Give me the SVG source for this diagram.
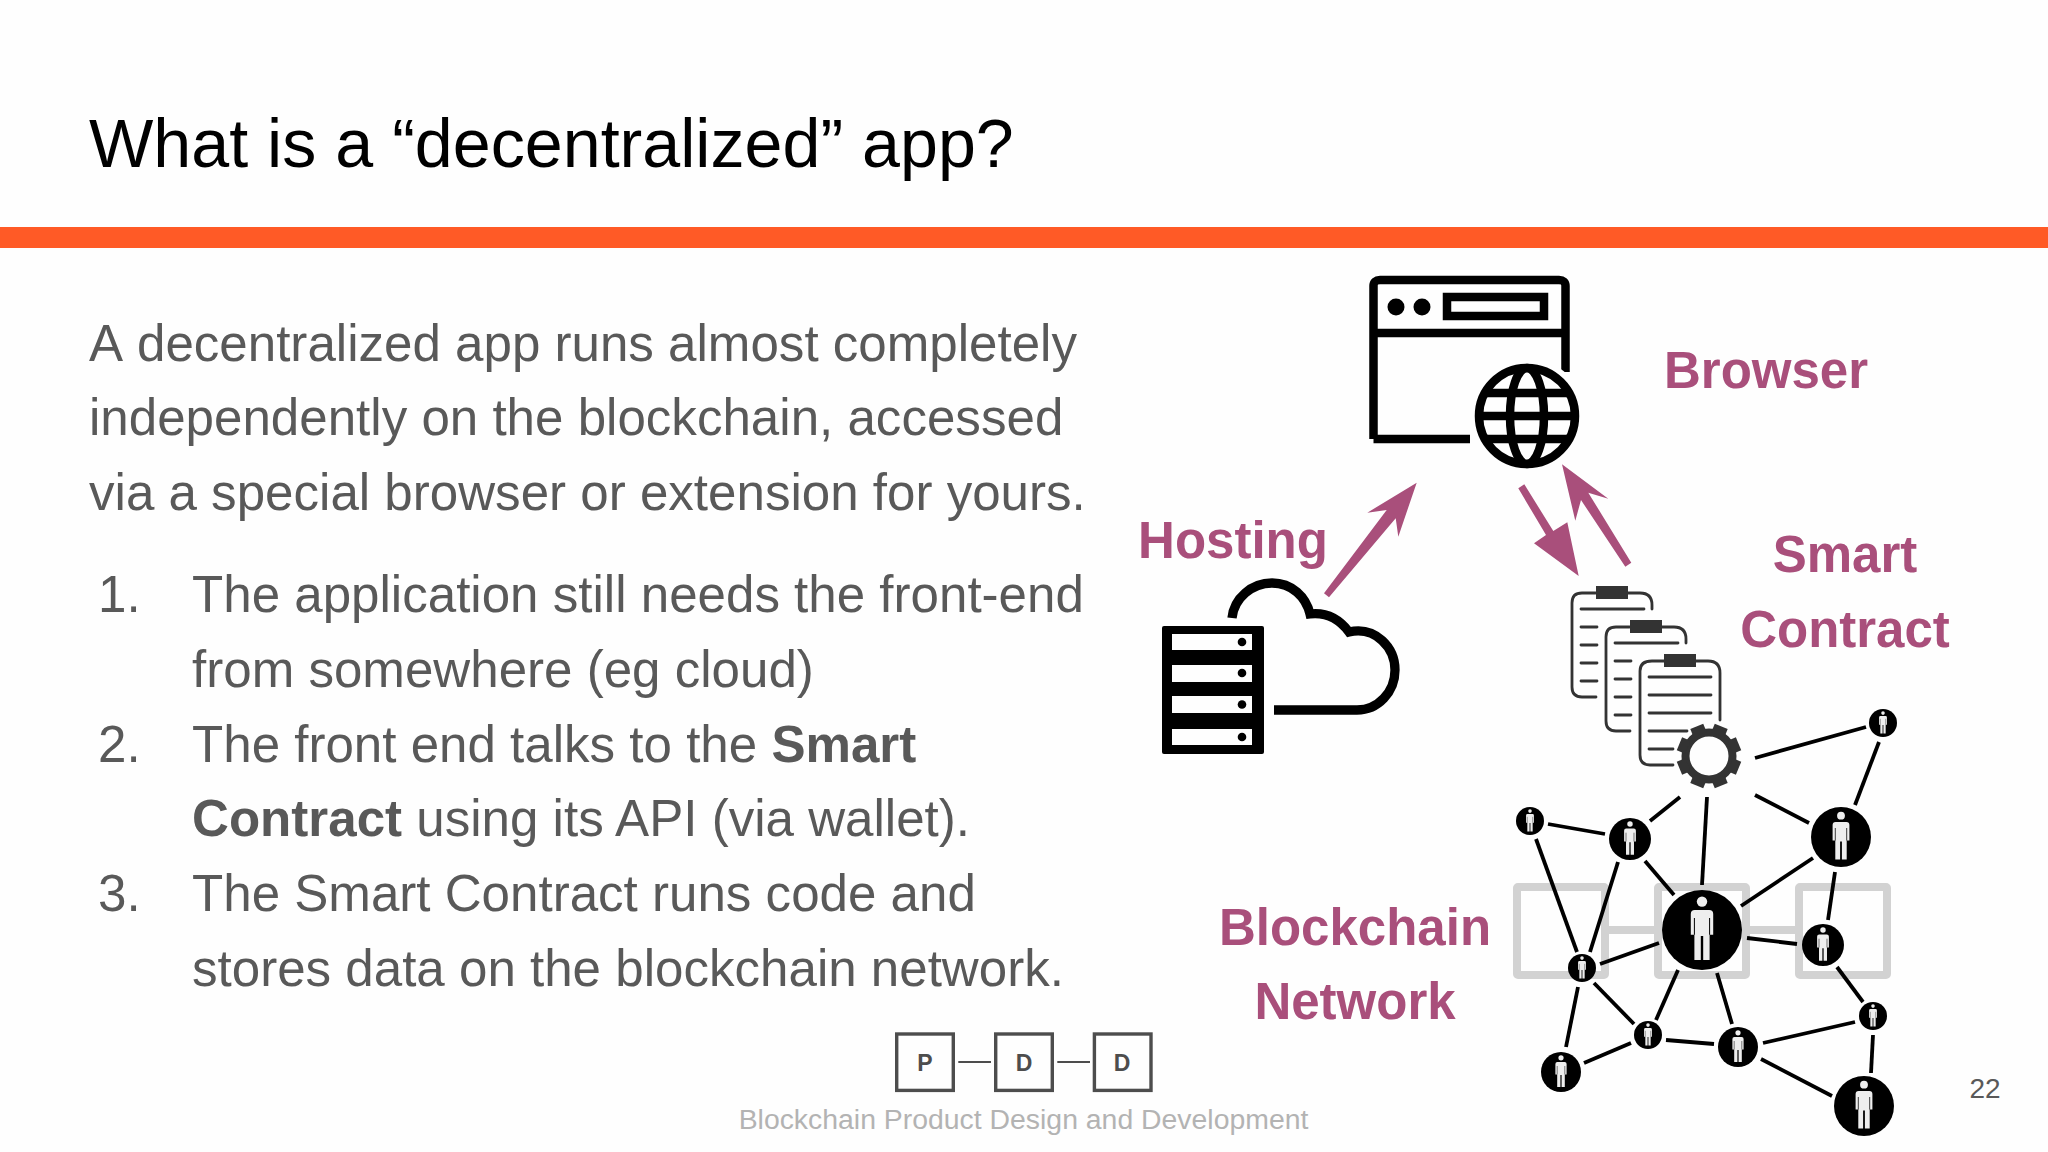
<svg xmlns="http://www.w3.org/2000/svg" width="2048" height="1152" viewBox="0 0 2048 1152">
<style>
text{font-family:"Liberation Sans",Arial,sans-serif}
.body{font-size:51.1px;fill:#595959}
.bold{font-weight:700}
.lab{font-size:51px;font-weight:700;fill:#a94f7b;text-anchor:middle}
.ln{stroke:#000;stroke-width:3.8;fill:none}
.k{stroke:#000;stroke-width:8.5;fill:none}
.doc{stroke:#333;stroke-width:2.8;fill:none;stroke-linecap:round}
.g{stroke:#d2d2d2;stroke-width:8;fill:none}
.ar{fill:#a94f7b}
.logo{stroke:#4d4d4d;fill:none}
.lt{font-size:23px;font-weight:700;fill:#4d4d4d;text-anchor:middle}
</style>
<defs>
<g id="person">
<circle r="1" fill="#000"/>
<circle cy="-.71" r=".13" fill="#eee"/>
<path fill="#eee" d="M-.28-.4Q-.28-.5-.18-.5H.18Q.28-.5.28-.4V.12H.19V.75H.03V.15H-.03V.75H-.19V.12H-.28Z"/>
<path stroke="#000" stroke-width=".025" fill="none" d="M-.19-.3V.12M.19-.3V.12"/>
</g>
<g id="doc">
<path class="doc" d="M25.5 593H12Q2 593 2 603V687Q2 697 12 697H26M58 593H70Q82 593 82 605V609"/>
<rect x="26" y="586" width="32" height="13" fill="#333"/>
</g>
</defs>
<rect width="2048" height="1152" fill="#fefefe"/>
<rect y="227" width="2048" height="21" fill="#ff5a26"/>
<text id="title" x="89" y="167" font-size="68.2" fill="#000">What is a “decentralized” app?</text>
<g id="body-text" class="body">
<text x="89" y="361">A<tspan dx="2.5"> decentralized app runs almost completely</tspan></text>
<text x="89" y="435">independently on the blockchain, accessed</text>
<text x="89" y="510">via a special browser or extension for yours.</text>
<text x="98" y="612">1.</text>
<text x="192" y="612">The application still needs the front-end</text>
<text x="192" y="687">from somewhere (eg cloud)</text>
<text x="98" y="762">2.</text>
<text x="192" y="762">The front end talks to the <tspan class="bold">Smart</tspan></text>
<text x="192" y="836"><tspan class="bold">Contract</tspan> using its API (via wallet).</text>
<text x="98" y="911">3.</text>
<text x="192" y="911">The Smart Contract runs code and</text>
<text x="192" y="986">stores data on the blockchain network.</text>
</g>
<g id="blocks" class="g">
<rect x="1517" y="887" width="88" height="88" rx="1"/>
<rect x="1658" y="887" width="88" height="88" rx="1"/>
<rect x="1799" y="887" width="88" height="88" rx="1"/>
<path d="M1605 930H1658M1746 930H1799"/>
</g>
<g id="connectors" class="ln">
<path d="M1755 758L1866 727"/>
<path d="M1879 742L1855 805"/>
<path d="M1755 795L1809 823"/>
<path d="M1680 797L1650 821"/>
<path d="M1707 797L1702 885"/>
<path d="M1548 824L1605 834"/>
<path d="M1536 839L1577 952"/>
<path d="M1618 862L1590 952"/>
<path d="M1645 861L1674 895"/>
<path d="M1813 858L1741 906"/>
<path d="M1835 872L1828 920"/>
<path d="M1659 943L1600 964"/>
<path d="M1747 938L1797 944"/>
<path d="M1678 970L1656 1020"/>
<path d="M1717 973L1732 1024"/>
<path d="M1594 983L1634 1024"/>
<path d="M1578 987L1566 1047"/>
<path d="M1631 1043L1584 1063"/>
<path d="M1666 1040L1714 1044"/>
<path d="M1763 1043L1855 1022"/>
<path d="M1761 1059L1832 1096"/>
<path d="M1837 967L1863 1002"/>
<path d="M1873 1035L1871 1073"/>
</g>
<g id="arrows" class="ar">
<path d="M1324 593.300L1386.700 510L1367.300 512.700L1416.700 482.700L1398.300 536.700L1395.700 518.300L1329 597.300Z"/>
<path d="M1518.300 488.300L1524.300 484.300L1553.300 531L1567.300 522.300L1578.700 576L1534 543.300L1546 535Z"/>
<path d="M1631.300 562.700L1625.300 566.700L1581 500L1575.300 520.700L1562 464.300L1608.300 498.700L1588.300 492.700Z"/>
</g>
<g id="browser">
<path class="k" d="M1373.500 439V286Q1373.500 280 1380 280H1559Q1565.500 280 1565.500 286V372M1373.500 333H1565.500M1373.500 439H1470"/>
<circle cx="1396" cy="307" r="8.5"/>
<circle cx="1422" cy="307" r="8.5"/>
<rect class="k" x="1447" y="297" width="97" height="19"/>
<circle cx="1527" cy="416" r="58" fill="#fefefe"/>
<g class="k">
<circle cx="1527" cy="416" r="48"/>
<ellipse cx="1527" cy="416" rx="17" ry="48"/>
<path d="M1479 416H1575M1486 393H1568M1486 439H1568"/>
</g>
</g>
<g id="hosting">
<path fill="none" stroke="#000" stroke-width="9.3" d="M1232 618C1234 598 1252 583 1272 583C1292 583 1306 597 1310 614C1328 612 1340 620 1349 632C1376 626 1395 648 1395 670C1395 692 1378 710 1357 710H1274"/>
<rect x="1162" y="626" width="102" height="128" rx="2" fill="#000"/>
<g fill="#fefefe">
<rect x="1172" y="634" width="80" height="16"/>
<rect x="1172" y="665" width="80" height="17"/>
<rect x="1172" y="696" width="80" height="17"/>
<rect x="1172" y="729" width="80" height="16"/>
</g>
<g fill="#000">
<circle cx="1242" cy="642" r="4.3"/><circle cx="1242" cy="673" r="4.3"/><circle cx="1242" cy="704.5" r="4.3"/><circle cx="1242" cy="737" r="4.3"/>
</g>
</g>
<g id="contract">
<use href="#doc" x="1570"/>
<path class="doc" d="M1581 609H1644M1581 627H1597M1581 645H1597M1581 663H1597M1581 681H1597"/>
<use href="#doc" x="1604" y="34"/>
<path class="doc" d="M1615 643H1678M1615 661H1631M1615 679H1631M1615 697H1631M1615 715H1631"/>
<path class="doc" d="M1664 661H1652Q1640 661 1640 671V755Q1640 765 1650 765H1673M1696 661H1708Q1720 661 1720 673V720"/>
<rect x="1664" y="654" width="32" height="13" fill="#333"/>
<path class="doc" d="M1649 677H1711M1649 695H1711M1649 713H1711M1649 731H1687M1649 749H1673"/>
<g id="gear" transform="translate(1709 756)" fill="#333">
<circle r="23.5" fill="#fefefe" stroke="#333" stroke-width="8"/>
<rect x="-7" y="-32" width="14" height="9" transform="rotate(22.5)"/>
<rect x="-7" y="-32" width="14" height="9" transform="rotate(67.5)"/>
<rect x="-7" y="-32" width="14" height="9" transform="rotate(112.5)"/>
<rect x="-7" y="-32" width="14" height="9" transform="rotate(157.5)"/>
<rect x="-7" y="-32" width="14" height="9" transform="rotate(202.5)"/>
<rect x="-7" y="-32" width="14" height="9" transform="rotate(247.5)"/>
<rect x="-7" y="-32" width="14" height="9" transform="rotate(292.5)"/>
<rect x="-7" y="-32" width="14" height="9" transform="rotate(337.5)"/>
</g>
</g>
<g id="network">
<use href="#person" transform="translate(1883 723) scale(14)"/>
<use href="#person" transform="translate(1841 837) scale(30)"/>
<use href="#person" transform="translate(1702 930) scale(40)"/>
<use href="#person" transform="translate(1630 839) scale(21)"/>
<use href="#person" transform="translate(1530 821) scale(14)"/>
<use href="#person" transform="translate(1582 968) scale(14)"/>
<use href="#person" transform="translate(1823 945) scale(21)"/>
<use href="#person" transform="translate(1873 1016) scale(14)"/>
<use href="#person" transform="translate(1738 1047) scale(20)"/>
<use href="#person" transform="translate(1648 1035) scale(14)"/>
<use href="#person" transform="translate(1561 1072) scale(20)"/>
<use href="#person" transform="translate(1864 1106) scale(30)"/>
</g>
<g id="labels">
<text class="lab" x="1766" y="388">Browser</text>
<text class="lab" x="1233" y="558">Hosting</text>
<text class="lab" x="1845" y="571.500">Smart</text>
<text class="lab" x="1845" y="647">Contract</text>
<text class="lab" x="1355" y="945">Blockchain</text>
<text class="lab" x="1355" y="1019">Network</text>
</g>
<g id="logo">
<g class="logo" stroke-width="3.4">
<rect x="896.700" y="1034" width="56.600" height="56.400"/>
<rect x="995.700" y="1034" width="56.600" height="56.400"/>
<rect x="1094.400" y="1034" width="56.600" height="56.400"/>
</g>
<path class="logo" stroke-width="2" d="M958.300 1062H991M1057.300 1062H1090"/>
<text class="lt" x="925" y="1070.500">P</text>
<text class="lt" x="1024" y="1070.500">D</text>
<text class="lt" x="1122" y="1070.500">D</text>
</g>
<text id="footer" x="1023.500" y="1129" font-size="28.4" fill="#b3b3b3" text-anchor="middle">Blockchain Product Design and Development</text>
<text id="page" x="1985" y="1098" font-size="28" fill="#595959" text-anchor="middle">22</text>
</svg>
